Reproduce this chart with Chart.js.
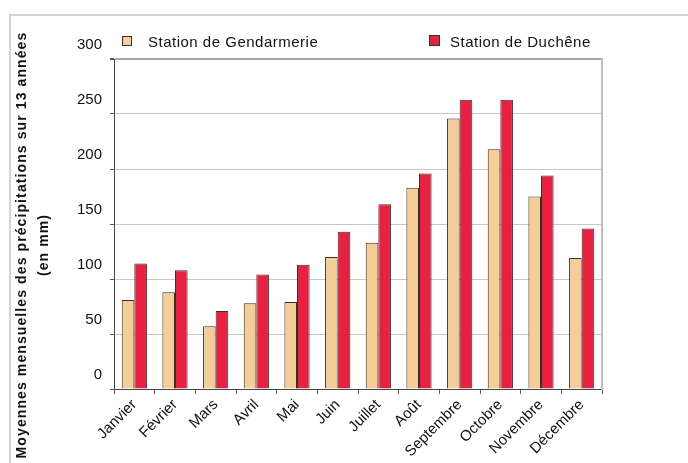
<!DOCTYPE html>
<html>
<head>
<meta charset="utf-8">
<script src="https://cdn.jsdelivr.net/npm/chart.js@4"></script>
<style>
  body { margin: 0; background: #fff; font-family: "Liberation Sans", Arial, sans-serif; }
  #wrap { position: relative; width: 688px; height: 463px; overflow: hidden; }
  #frame { position: absolute; left: 9px; top: 14px; width: 720px; height: 520px;
           border-left: 2px solid #d4d4d4; border-top: 2px solid #d4d4d4; }
  canvas { position: absolute; left: 0; top: 0; }
  .lg { position: absolute; top: 33px; font-size: 15px; letter-spacing: 0.5px; color: #111; white-space: nowrap; }
  .lg i { display: inline-block; width: 8px; height: 8px; border: 1px solid #333;
          margin-right: 16px; vertical-align: 1px; }
  #ytitle { position: absolute; left: -189px; top: 224px; width: 440px; height: 42px;
            transform: rotate(-90deg); text-align: center; font-weight: bold;
            font-size: 14px; letter-spacing: 1.1px; line-height: 22px; color: #111; }
</style>
</head>
<body>
<div id="wrap">
  <div id="frame"></div>
  <canvas id="chart" width="688" height="463"></canvas>
  <div class="lg" style="left:122px"><i style="background:#F5CD96"></i>Station de Gendarmerie</div>
  <div class="lg" style="left:429px"><i style="background:#EA2040;width:9px;height:9px;margin-right:10px"></i>Station de Duchêne</div>
  <div id="ytitle">Moyennes mensuelles des précipitations sur 13 années<br>(en mm)</div>
</div>
<script>
const months = ["Janvier", "Février", "Mars", "Avril", "Mai", "Juin", "Juillet",
                "Août", "Septembre", "Octobre", "Novembre", "Décembre"];
const gendarmerie = [81, 88, 57, 78, 79, 120, 133, 183, 246, 218, 175, 119];
const duchene = [114, 108, 71, 104, 113, 143, 168, 196, 263, 263, 194, 146];
const yMin = 0, yMax = 300, yStep = 50;

const font = { family: '"Liberation Sans", Arial, sans-serif', size: 15 };

new Chart(document.getElementById("chart"), {
  type: "bar",
  data: {
    labels: months,
    datasets: [
      { label: "Station de Gendarmerie", data: gendarmerie,
        backgroundColor: "#F5CD96", borderColor: "#3a2f2a", borderWidth: 1 },
      { label: "Station de Duchêne", data: duchene,
        backgroundColor: "#EA2040", borderColor: "#3a2f2a", borderWidth: 1 }
    ]
  },
  options: {
    responsive: false,
    animation: false,
    layout: { padding: { top: 59, right: 86, bottom: 0, left: 0 } },
    datasets: { bar: { categoryPercentage: 0.62, barPercentage: 1.0 } },
    plugins: { legend: { display: false }, tooltip: { enabled: false } },
    scales: {
      x: {
        grid: { drawOnChartArea: false, tickColor: "#555", tickLength: 5 },
        border: { color: "#444" },
        ticks: { font, color: "#111", minRotation: 45, maxRotation: 45, autoSkip: false, padding: 2 },
        afterFit: s => { s.height = 74; }
      },
      y: {
        min: yMin,
        max: yMax,
        grid: {
          color: c => (c.tick && c.tick.value === yMax ? "#a8a8a8" : "#c8c8c8"),
          lineWidth: c => (c.tick && c.tick.value === yMax ? 2 : 1),
          tickColor: "#555",
          tickLength: 4
        },
        border: { color: "#444" },
        ticks: { stepSize: yStep, font, color: "#111", padding: 8, labelOffset: -14 },
        afterFit: s => { s.width = 114; }
      },
      yRight: {
        position: "right",
        min: yMin,
        max: yMax,
        grid: { drawOnChartArea: false, drawTicks: false },
        border: { color: "#bdbdbd", width: 2 },
        ticks: { display: false },
        afterFit: s => { s.width = 0; }
      }
    }
  }
});
</script>
</body>
</html>
